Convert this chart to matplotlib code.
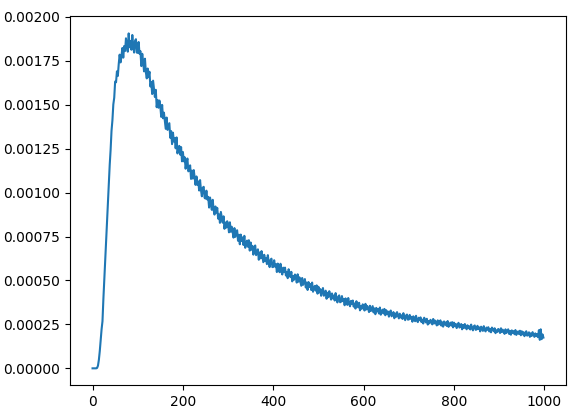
import numpy as np
import matplotlib
matplotlib.use('Agg')
import matplotlib.pyplot as plt

# sample index, every second step (0, 2, ..., 998)
steps = np.arange(0, 1000, 2)

# signal values, in units of 1e-6 (25 samples per row)
signal_micro = [
    0, 0, 0, 0, 0, 2, 15, 48, 98, 158, 222, 268, 395, 505, 606, 728, 826, 948, 1046, 1158, 1244, 1352, 1412, 1502, 1540,
    1632, 1628, 1690, 1664, 1733, 1785, 1741, 1776, 1823, 1768, 1834, 1806, 1878, 1843, 1802, 1906, 1827, 1863, 1813, 1897, 1835, 1797, 1863, 1873, 1797,
    1795, 1857, 1790, 1805, 1720, 1790, 1745, 1690, 1762, 1685, 1650, 1706, 1657, 1688, 1604, 1630, 1561, 1637, 1593, 1544, 1585, 1486, 1527, 1483, 1524,
    1493, 1431, 1499, 1423, 1455, 1411, 1363, 1427, 1357, 1376, 1395, 1312, 1350, 1276, 1341, 1290, 1311, 1252, 1314, 1223, 1253, 1266, 1216, 1259, 1178,
    1231, 1178, 1201, 1136, 1171, 1194, 1121, 1132, 1155, 1078, 1125, 1080, 1128, 1088, 1044, 1092, 1044, 1064, 1012, 1071, 1014, 979, 1028, 1033, 970,
    966, 1011, 961, 976, 915, 972, 941, 902, 959, 902, 875, 921, 886, 913, 852, 876, 828, 890, 861, 829, 865, 794, 830, 801, 837,
    818, 774, 831, 777, 806, 777, 744, 798, 748, 767, 786, 726, 760, 706, 761, 725, 745, 702, 754, 686, 713, 727, 692, 729, 670,
    716, 675, 697, 647, 678, 699, 644, 656, 677, 618, 659, 626, 667, 637, 604, 646, 610, 629, 593, 644, 602, 576, 617, 624, 576,
    577, 615, 579, 593, 548, 596, 574, 547, 595, 552, 534, 573, 549, 573, 528, 549, 513, 564, 543, 519, 549, 495, 525, 504, 534,
    521, 488, 535, 493, 518, 495, 470, 514, 475, 492, 508, 460, 488, 446, 491, 463, 480, 446, 488, 436, 458, 469, 442, 472, 425,
    464, 432, 451, 413, 438, 457, 413, 424, 442, 396, 430, 405, 439, 417, 391, 426, 398, 414, 386, 428, 395, 375, 409, 415, 376,
    379, 411, 382, 395, 359, 398, 381, 361, 400, 367, 353, 384, 367, 386, 351, 369, 340, 382, 366, 347, 373, 330, 355, 339, 364,
    355, 329, 367, 335, 355, 339, 320, 356, 326, 340, 354, 318, 341, 308, 344, 324, 338, 312, 346, 305, 324, 334, 312, 338, 302,
    331, 308, 323, 294, 315, 329, 296, 305, 320, 285, 312, 293, 320, 303, 284, 311, 289, 302, 281, 314, 289, 274, 301, 306, 277,
    278, 304, 282, 293, 265, 296, 284, 268, 299, 273, 263, 288, 274, 290, 263, 277, 255, 288, 276, 261, 282, 249, 269, 256, 276,
    269, 250, 281, 255, 272, 259, 244, 273, 249, 262, 273, 243, 262, 237, 267, 249, 261, 241, 269, 236, 251, 260, 243, 263, 233,
    260, 240, 253, 229, 246, 259, 232, 239, 252, 222, 246, 229, 252, 239, 222, 245, 228, 239, 221, 249, 229, 216, 239, 244, 219,
    221, 242, 224, 233, 210, 237, 227, 213, 240, 218, 210, 232, 219, 234, 210, 223, 205, 232, 223, 211, 228, 200, 217, 207, 224,
    219, 201, 228, 206, 220, 209, 196, 222, 201, 211, 222, 196, 213, 191, 216, 202, 212, 194, 218, 190, 204, 210, 195, 214, 188,
    211, 193, 206, 183, 200, 211, 186, 193, 205, 179, 199, 184, 206, 193, 179, 199, 183, 194, 177, 217, 162, 222, 166, 193, 175,
]

values = np.array(signal_micro) * 1e-6

fig = plt.figure(figsize=(5.79, 4.19), dpi=100)
ax = fig.add_axes([0.1209, 0.0811, 0.8566, 0.8807])
ax.plot(steps, values, color='#1f77b4')
ax.set_ylim(-0.000095, 0.002005)

fig.savefig('out.png', dpi=100)
